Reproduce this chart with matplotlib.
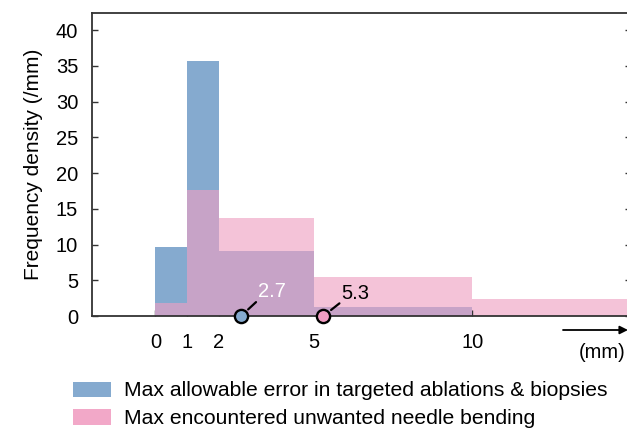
import matplotlib
matplotlib.use("Agg")
import matplotlib.pyplot as plt
from matplotlib.patches import Patch, FancyArrowPatch
import numpy as np

plt.rcParams['font.family'] = ['Liberation Sans', 'DejaVu Sans']

# Data
bin_edges = [0, 1, 2, 5, 10, 15]
ablation_density = [9.7, 35.7, 9.1, 1.2, 0.0]     # blue
bending_density = [1.8, 17.6, 13.7, 5.4, 2.4]     # pink
ablation_marker = 2.7
bending_marker = 5.3
xtick_vals = [0, 1, 2, 5, 10]
ytick_vals = [0, 5, 10, 15, 20, 25, 30, 35, 40]
legend_labels = ["Max allowable error in targeted ablations & biopsies",
                 "Max encountered unwanted needle bending"]

BLUE = '#85aacf'
PINK = '#f4c3d8'
OVER = '#c7a3c7'
PINK_LEG = '#f2a8c8'
PINK_MARK = '#f29dc3'
SPINE = '#333333'
FS = 14.5

fig = plt.figure(figsize=(6.27, 4.28), dpi=100)
ax = fig.add_axes([92/627, 1-316/428, (631-92)/627, (316-13)/428])

lefts = np.array(bin_edges[:-1], dtype=float)
widths = np.diff(bin_edges).astype(float)
a = np.array(ablation_density)
b = np.array(bending_density)
ov = np.minimum(a, b)

ax.bar(lefts, a, width=widths, align='edge', color=BLUE, linewidth=0, zorder=1)
ax.bar(lefts, b, width=widths, align='edge', color=PINK, linewidth=0, zorder=1)
ax.bar(lefts, ov, width=widths, align='edge', color=OVER, linewidth=0, zorder=2)

ax.set_xlim(-2, 15)
ax.set_ylim(0, 42.4)
ax.set_xticks(xtick_vals)
ax.set_xticklabels([str(v) for v in xtick_vals])
ax.set_yticks(ytick_vals)
ax.tick_params(axis='both', direction='in', length=4, width=1.0, color=SPINE,
               labelsize=FS)
ax.tick_params(axis='x', pad=12)
ax.tick_params(axis='y', right=True, pad=10)
for s in ax.spines.values():
    s.set_color(SPINE)
    s.set_linewidth(1.3)
ax.set_ylabel("Frequency density (/mm)", fontsize=15, labelpad=9)

# markers
ax.plot([ablation_marker], [0], 'o', ms=9.5, mfc=BLUE, mec='black', mew=1.7,
        clip_on=False, zorder=5)
ax.plot([bending_marker], [0], 'o', ms=9.5, mfc=PINK_MARK, mec='black', mew=1.7,
        clip_on=False, zorder=5)
ax.annotate("", xy=(ablation_marker, 0), xytext=(10.8, 10), textcoords='offset points',
            arrowprops=dict(arrowstyle='-', color='black', lw=1.6, shrinkA=0, shrinkB=7))
ax.annotate(str(ablation_marker), xy=(ablation_marker, 0), xytext=(12.5, 13.5),
            textcoords='offset points', color='white', fontsize=FS, ha='left', va='baseline')
ax.annotate("", xy=(bending_marker, 0), xytext=(11.5, 9.1), textcoords='offset points',
            arrowprops=dict(arrowstyle='-', color='black', lw=1.6, shrinkA=0, shrinkB=7))
ax.annotate(str(bending_marker), xy=(bending_marker, 0), xytext=(13, 12.2),
            textcoords='offset points', color='black', fontsize=FS, ha='left', va='baseline')

# unit arrow
fig.patches.append(FancyArrowPatch(
    (563/627, 1-330/428), (628/627, 1-330/428), transform=fig.transFigure,
    arrowstyle='-|>', mutation_scale=12, color='black', lw=1.3, shrinkA=0, shrinkB=0))
fig.text(626/627, 1-352/428, "(mm)", ha='right', va='center', fontsize=FS)

handles = [Patch(facecolor=BLUE, edgecolor='none'),
           Patch(facecolor=PINK_LEG, edgecolor='none')]
fig.legend(handles, legend_labels, loc='upper left',
           bbox_to_anchor=(73/627, 1-381.5/428), frameon=False, fontsize=15.2,
           handlelength=1.8, handleheight=0.72, handletextpad=0.62, labelspacing=0.42,
           borderaxespad=0, borderpad=0)

fig.savefig("out.png", dpi=100)
